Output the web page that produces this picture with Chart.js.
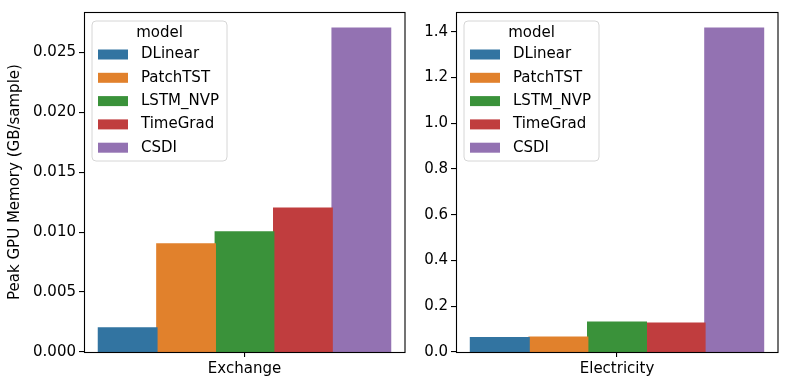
<!DOCTYPE html>
<html>
<head>
<meta charset="utf-8">
<script src="https://cdn.jsdelivr.net/npm/chart.js@4.4.1/dist/chart.umd.min.js"></script>
<style>
  html, body { margin: 0; padding: 0; background: #ffffff; }
  #wrap { position: relative; width: 786px; height: 387px; overflow: hidden; }
  .panel { position: absolute; top: 0; }
</style>
</head>
<body>
<div id="wrap">
  <div class="panel" style="left:0px;width:410px;height:387px;"><canvas id="c1" width="410" height="387"></canvas></div>
  <div class="panel" style="left:410px;width:376px;height:387px;"><canvas id="c2" width="376" height="387"></canvas></div>
</div>
<script>
// ---- data ----
const models = ['DLinear', 'PatchTST', 'LSTM_NVP', 'TimeGrad', 'CSDI'];
const exchangeCategories = ['Exchange'];
const electricityCategories = ['Electricity'];
const exchangeValues = [0.002, 0.009, 0.010, 0.012, 0.027];
const electricityValues = [0.062, 0.065, 0.130, 0.126, 1.415];
const exchangeTicks = [0.000, 0.005, 0.010, 0.015, 0.020, 0.025];
const electricityTicks = [0.0, 0.2, 0.4, 0.6, 0.8, 1.0, 1.2, 1.4];
const modelColors = ['#3274a1', '#e1812c', '#3a923a', '#c03d3e', '#9372b2'];
const yTitle = 'Peak GPU Memory (GB/sample)';
const legendTitle = 'model';

const FONT = "'DejaVu Sans', sans-serif";
const FS = 15;

const framePlugin = {
  id: 'mplFrame',
  afterDatasetsDraw(chart) {
    const {ctx, chartArea: a} = chart;
    ctx.save();
    ctx.strokeStyle = '#000000';
    ctx.lineWidth = 1.1;
    ctx.strokeRect(Math.round(a.left) + 0.5, Math.round(a.top) + 0.5,
                   Math.round(a.right - a.left) - 0.5, Math.round(a.bottom - a.top));
    ctx.restore();
  },
  afterDraw(chart) {
    const {ctx, chartArea: a} = chart;
    const x0 = a.left + 8, y0 = a.top + 9;
    ctx.save();
    ctx.font = FS + 'px ' + FONT;
    let maxW = 0;
    chart.data.datasets.forEach(d => { maxW = Math.max(maxW, ctx.measureText(d.label).width); });
    const w = Math.round(49 + maxW + 8), h = 140, r = 4;
    ctx.beginPath();
    ctx.moveTo(x0 + r, y0);
    ctx.lineTo(x0 + w - r, y0);
    ctx.arcTo(x0 + w, y0, x0 + w, y0 + r, r);
    ctx.lineTo(x0 + w, y0 + h - r);
    ctx.arcTo(x0 + w, y0 + h, x0 + w - r, y0 + h, r);
    ctx.lineTo(x0 + r, y0 + h);
    ctx.arcTo(x0, y0 + h, x0, y0 + h - r, r);
    ctx.lineTo(x0, y0 + r);
    ctx.arcTo(x0, y0, x0 + r, y0, r);
    ctx.closePath();
    ctx.fillStyle = 'rgba(255,255,255,0.8)';
    ctx.fill();
    ctx.strokeStyle = '#d6d6d6';
    ctx.lineWidth = 1;
    ctx.stroke();
    ctx.fillStyle = '#000000';
    ctx.textBaseline = 'middle';
    ctx.textAlign = 'center';
    ctx.fillText(legendTitle, x0 + w / 2, y0 + 12);
    ctx.textAlign = 'left';
    chart.data.datasets.forEach((d, i) => {
      const cy = y0 + 33 + i * 23.3;
      ctx.fillStyle = d.backgroundColor;
      ctx.fillRect(x0 + 6, cy - 4.5, 30, 10);
      ctx.fillStyle = '#000000';
      ctx.fillText(d.label, x0 + 49, cy + 0.5);
    });
    ctx.restore();
  }
};

function makeChart(id, categories, values, ticks, decimals, yWidth, padRight, showTitle) {
  const datasets = models.map((m, i) => ({
    label: m,
    data: [values[i]],
    backgroundColor: modelColors[i],
    borderWidth: 0,
    inflateAmount: 0.7,
    categoryPercentage: 0.91,
    barPercentage: 1.0
  }));
  const ymax = Math.max(...values) * 1.05;
  return new Chart(document.getElementById(id), {
    type: 'bar',
    data: { labels: categories, datasets },
    plugins: [framePlugin],
    options: {
      responsive: false,
      animation: false,
      events: [],
      layout: { autoPadding: false, padding: { left: 0, right: padRight, top: 10, bottom: 0 } },
      plugins: { legend: { display: false }, tooltip: { enabled: false } },
      scales: {
        x: {
          type: 'category',
          offset: true,
          border: { display: false },
          grid: { display: true, drawOnChartArea: false, drawTicks: true, tickLength: 5, offset: false, color: '#000000', lineWidth: 1.1 },
          ticks: { color: '#000000', font: { family: FONT, size: FS }, padding: 3 },
          afterFit: s => { s.height = 35; }
        },
        y: {
          type: 'linear',
          min: 0,
          max: ymax,
          border: { display: false },
          grid: { display: true, drawOnChartArea: false, drawTicks: true, tickLength: 5, color: '#000000', lineWidth: 1.1 },
          afterBuildTicks: s => { s.ticks = ticks.map(v => ({ value: v })); },
          ticks: {
            color: '#000000',
            font: { family: FONT, size: FS },
            padding: 3,
            callback: v => Number(v).toFixed(decimals)
          },
          title: {
            display: showTitle,
            text: yTitle,
            color: '#000000',
            font: { family: FONT, size: FS },
            padding: { top: 6, bottom: 0 }
          },
          afterFit: s => { s.width = yWidth; }
        }
      }
    }
  });
}

makeChart('c1', exchangeCategories, exchangeValues, exchangeTicks, 3, 84, 5, true);
makeChart('c2', electricityCategories, electricityValues, electricityTicks, 1, 46, 8, false);
</script>
</body>
</html>
